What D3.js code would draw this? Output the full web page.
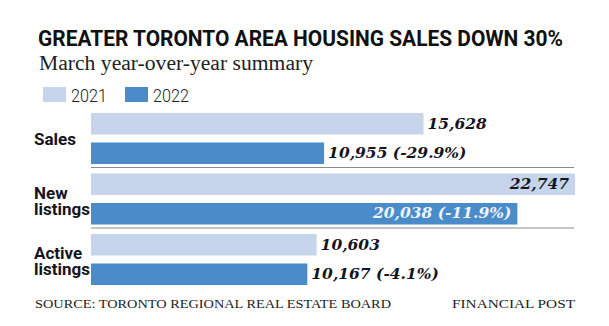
<!DOCTYPE html>
<html>
<head>
<meta charset="utf-8">
<title>Greater Toronto Area housing sales</title>
<script src="https://cdn.jsdelivr.net/npm/d3@7"></script>
<style>
  body { margin: 0; background: #fff; }
  svg { display: block; }
</style>
</head>
<body>
<script>

	// data
	var categories = ["Sales", "New listings", "Active listings"];
	var years = ["2021", "2022"];
	var values2021 = [15628, 22747, 10603];
	var values2022 = [10955, 20038, 10167];
	var changes = ["-29.9%", "-11.9%", "-4.1%"];

	var W = 609, H = 326;
	var colors = { "2021": "#c6d5ec", "2022": "#4a8cca" };
	var ink = "#15151e";

	var svg = d3.select("body").append("svg")
		.attr("width", W)
		.attr("height", H);

	svg.append("rect").attr("width", W).attr("height", H).attr("fill", "#fff");

	// title + subtitle
	svg.append("text")
		.attr("x", 38).attr("y", 46)
		.attr("font-family", "Roboto, sans-serif")
		.attr("font-weight", 700)
		.attr("font-size", 22.5)
		.attr("fill", "#111")
		.attr("textLength", 525)
		.attr("lengthAdjust", "spacingAndGlyphs")
		.text("GREATER TORONTO AREA HOUSING SALES DOWN 30%");

	svg.append("text")
		.attr("x", 39).attr("y", 70)
		.attr("font-family", "'Liberation Serif', serif")
		.attr("font-size", 20)
		.attr("fill", "#222")
		.attr("textLength", 274)
		.attr("lengthAdjust", "spacingAndGlyphs")
		.text("March year-over-year summary");

	// legend
	var legend = svg.append("g").selectAll("g")
		.data(years)
		.enter().append("g")
		.attr("transform", function (d, i) { return "translate(" + (43 + i * 82) + ",87)"; });

	legend.append("rect")
		.attr("width", 23).attr("height", 15)
		.attr("fill", function (d) { return colors[d]; });

	legend.append("text")
		.attr("x", 28).attr("y", 15)
		.attr("font-family", "Roboto, sans-serif")
		.attr("font-weight", 300)
		.attr("font-size", 19)
		.attr("fill", "#222")
		.attr("textLength", 36)
		.attr("lengthAdjust", "spacingAndGlyphs")
		.text(function (d) { return d; });

	// scales
	var x = d3.scaleLinear().domain([0, 22747]).range([91, 575]);
	var y0 = d3.scaleBand().domain(categories).range([110, 291.5]);
	var y1 = d3.scaleBand().domain(years).range([3, 54]).paddingInner(0.271);

	var rows = categories.map(function (c, i) {
		return { cat: c, vals: [
			{ year: "2021", v: values2021[i], label: d3.format(",")(values2021[i]) },
			{ year: "2022", v: values2022[i], label: d3.format(",")(values2022[i]) + " (" + changes[i] + ")" }
		] };
	});

	var group = svg.append("g").selectAll("g")
		.data(rows)
		.enter().append("g")
		.attr("transform", function (d) { return "translate(0," + y0(d.cat) + ")"; });

	// separators between groups
	group.filter(function (d, i) { return i < categories.length - 1; })
		.append("line")
		.attr("x1", x(0)).attr("x2", x(22747) - 1)
		.attr("y1", 57.5).attr("y2", 57.5)
		.attr("stroke", "#8a8a8a")
		.attr("stroke-width", 1);

	// category labels
	group.append("text")
		.attr("font-family", "Roboto, sans-serif")
		.attr("font-weight", 700)
		.attr("font-size", 17)
		.attr("fill", ink)
		.selectAll("tspan")
		.data(function (d) {
			var w = d.cat.split(" ");
			return w.length === 1 ? [{ t: w[0], y: 35 }] : [{ t: w[0], y: 28 }, { t: w[1], y: 44 }];
		})
		.enter().append("tspan")
		.attr("x", 34)
		.attr("y", function (d) { return d.y; })
		.text(function (d) { return d.t; });

	// bars
	var bar = group.selectAll(".bar")
		.data(function (d) { return d.vals; })
		.enter().append("g")
		.attr("class", "bar");

	bar.append("rect")
		.attr("x", x(0))
		.attr("y", function (d) { return y1(d.year); })
		.attr("width", function (d) { return x(d.v) - x(0); })
		.attr("height", y1.bandwidth())
		.attr("fill", function (d) { return colors[d.year]; });

	// value labels, inside the bar when it is too long
	bar.append("text")
		.attr("font-family", "'DejaVu Serif', serif")
		.attr("font-style", "italic")
		.attr("font-weight", 700)
		.attr("font-size", 15.5)
		.attr("y", function (d) { return y1(d.year) + 15.5; })
		.attr("x", function (d) { return d.v > 20000 ? x(d.v) - 6 : x(d.v) + 4; })
		.attr("text-anchor", function (d) { return d.v > 20000 ? "end" : "start"; })
		.attr("fill", function (d) { return d.v > 20000 && d.year === "2022" ? "#eef4fb" : ink; })
		.text(function (d) { return d.label; });

	// footer
	svg.append("text")
		.attr("x", 35).attr("y", 308)
		.attr("font-family", "'Liberation Serif', serif")
		.attr("font-size", 13)
		.attr("fill", "#222")
		.attr("textLength", 356)
		.attr("lengthAdjust", "spacingAndGlyphs")
		.text("SOURCE: TORONTO REGIONAL REAL ESTATE BOARD");

	svg.append("text")
		.attr("x", 452).attr("y", 308)
		.attr("font-family", "'Liberation Serif', serif")
		.attr("font-size", 13)
		.attr("fill", "#222")
		.attr("textLength", 123)
		.attr("lengthAdjust", "spacingAndGlyphs")
		.text("FINANCIAL POST");

</script>
</body>
</html>
